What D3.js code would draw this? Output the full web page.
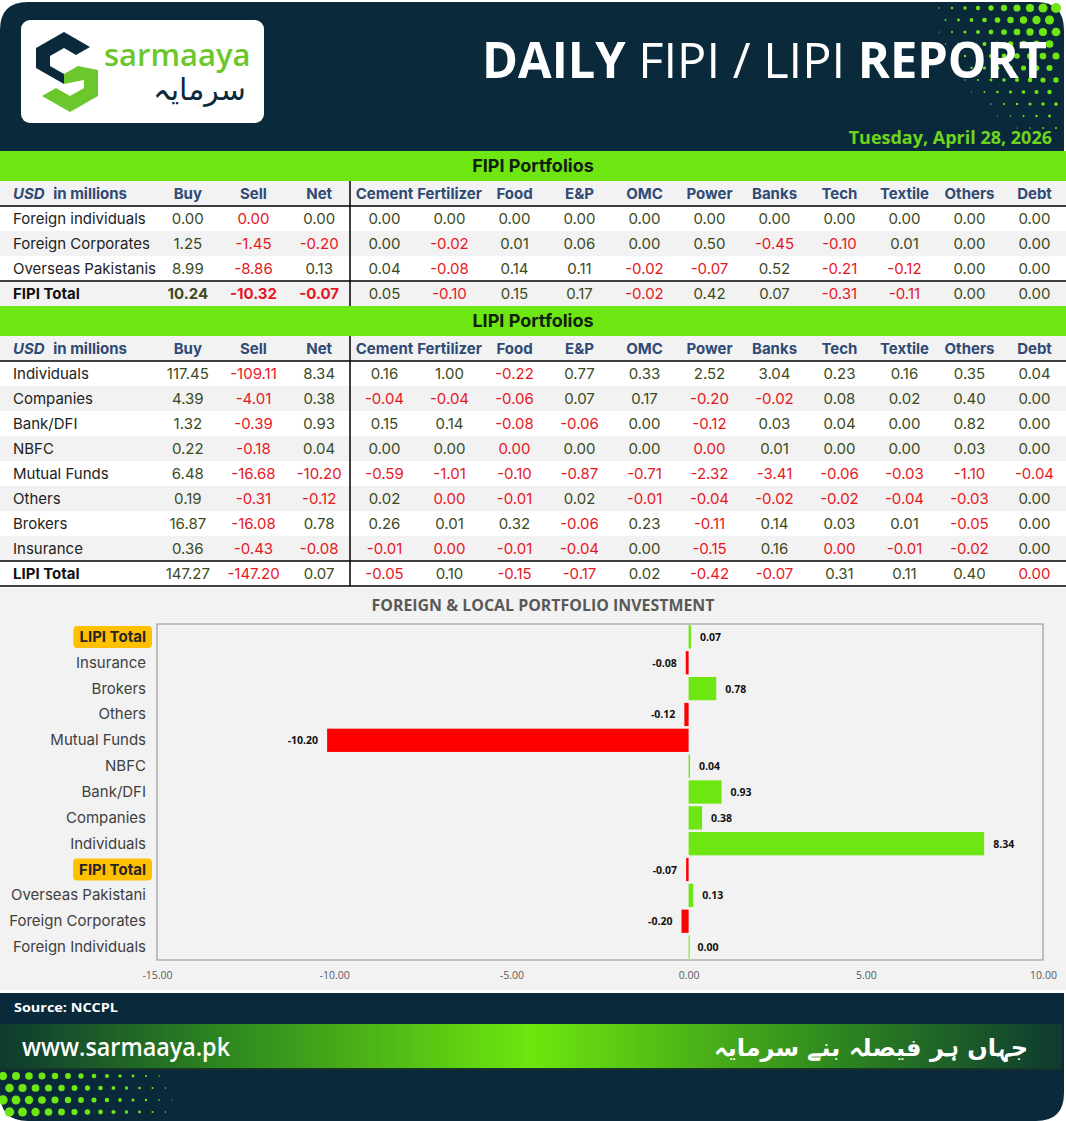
<!DOCTYPE html>
<meta charset="utf-8">
<style>
body { margin: 0; background: #ffffff; }
svg text { font-family: Inter, "Noto Sans", sans-serif; }
</style>
<body>
<script src="https://cdn.jsdelivr.net/npm/d3@7/dist/d3.min.js"></script>
<script>
// ---------- DATA ----------
var reportDate = "Tuesday, April 28, 2026";
var sectors = ["Cement", "Fertilizer", "Food", "E&P", "OMC", "Power", "Banks", "Tech", "Textile", "Others", "Debt"];
var flowCols = ["Buy", "Sell", "Net"];

// -0 marks a value that rounds to 0.00 but is shown in red (small outflow)
var fipiNames = ["Foreign individuals", "Foreign Corporates", "Overseas Pakistanis"];
var fipiBuy = [0.00, 1.25, 8.99];
var fipiSell = [-0, -1.45, -8.86];
var fipiNet = [0.00, -0.20, 0.13];
var fipiSectors = [
  [0.00, 0.00, 0.00, 0.00, 0.00, 0.00, 0.00, 0.00, 0.00, 0.00, 0.00],
  [0.00, -0.02, 0.01, 0.06, 0.00, 0.50, -0.45, -0.10, 0.01, 0.00, 0.00],
  [0.04, -0.08, 0.14, 0.11, -0.02, -0.07, 0.52, -0.21, -0.12, 0.00, 0.00]
];
var fipiTotalFlows = [10.24, -10.32, -0.07];
var fipiTotalSectors = [0.05, -0.10, 0.15, 0.17, -0.02, 0.42, 0.07, -0.31, -0.11, 0.00, 0.00];

var lipiNames = ["Individuals", "Companies", "Bank/DFI", "NBFC", "Mutual Funds", "Others", "Brokers", "Insurance"];
var lipiBuy = [117.45, 4.39, 1.32, 0.22, 6.48, 0.19, 16.87, 0.36];
var lipiSell = [-109.11, -4.01, -0.39, -0.18, -16.68, -0.31, -16.08, -0.43];
var lipiNet = [8.34, 0.38, 0.93, 0.04, -10.20, -0.12, 0.78, -0.08];
var lipiSectors = [
  [0.16, 1.00, -0.22, 0.77, 0.33, 2.52, 3.04, 0.23, 0.16, 0.35, 0.04],
  [-0.04, -0.04, -0.06, 0.07, 0.17, -0.20, -0.02, 0.08, 0.02, 0.40, 0.00],
  [0.15, 0.14, -0.08, -0.06, 0.00, -0.12, 0.03, 0.04, 0.00, 0.82, 0.00],
  [0.00, 0.00, -0, 0.00, 0.00, -0, 0.01, 0.00, 0.00, 0.03, 0.00],
  [-0.59, -1.01, -0.10, -0.87, -0.71, -2.32, -3.41, -0.06, -0.03, -1.10, -0.04],
  [0.02, -0, -0.01, 0.02, -0.01, -0.04, -0.02, -0.02, -0.04, -0.03, 0.00],
  [0.26, 0.01, 0.32, -0.06, 0.23, -0.11, 0.14, 0.03, 0.01, -0.05, 0.00],
  [-0.01, -0, -0.01, -0.04, 0.00, -0.15, 0.16, -0, -0.01, -0.02, 0.00]
];
var lipiTotalFlows = [147.27, -147.20, 0.07];
var lipiTotalSectors = [-0.05, 0.10, -0.15, -0.17, 0.02, -0.42, -0.07, 0.31, 0.11, 0.40, -0];

// bar chart (top to bottom)
var chartLabels = ["LIPI Total", "Insurance", "Brokers", "Others", "Mutual Funds", "NBFC", "Bank/DFI",
  "Companies", "Individuals", "FIPI Total", "Overseas Pakistani", "Foreign Corporates", "Foreign Individuals"];
var chartValues = [0.07, -0.08, 0.78, -0.12, -10.20, 0.04, 0.93, 0.38, 8.34, -0.07, 0.13, -0.20, 0.00];
var highlighted = ["LIPI Total", "FIPI Total"];
var xTicks = [-15, -10, -5, 0, 5, 10];

// ---------- GENERIC VARIABLES ----------
var width = 1066, height = 1121;
var navy = "#0a2a3c", lime = "#6ee611", red = "#e8161e", olive = "#3b4a23", headBlue = "#2f4a75";

var svg = d3.select("body").append("svg")
  .attr("width", width)
  .attr("height", height);

function isNeg(v) { return v < 0 || Object.is(v, -0); }
function fmt(v) { var s = v.toFixed(2); return s === "-0.00" ? "0.00" : s; }

// ---------- HEADER PANEL ----------
svg.append("path")
  .attr("d", "M0,151 V30 Q0,2 28,2 H1036 Q1064,2 1064,30 V151 Z")
  .attr("fill", navy);

// halftone dots, top right
var dotsTop = svg.append("g");
for (var gy = 8; gy < 130; gy += 12) {
  for (var gx = 900; gx < 1070; gx += 13) {
    var ox = gx + ((gy / 12) % 2 >= 1 ? 6.5 : 0);
    var d = Math.hypot(ox - 1080, gy + 5);
    var r = 6 - d / 27;
    if (r > 0.5 && ox < 1060) {
      dotsTop.append("circle").attr("cx", ox).attr("cy", gy).attr("r", r).attr("fill", lime);
    }
  }
}

// logo
var logo = svg.append("g");
logo.append("rect").attr("x", 21).attr("y", 20).attr("width", 243).attr("height", 103).attr("rx", 9).attr("fill", "#ffffff");
logo.append("polygon")
  .attr("points", "36,48 64,32 90,47 76,55 64,48 50,56 50,66 64,74 64,84 36,68")
  .attr("fill", navy);
logo.append("polygon")
  .attr("points", "98,70 98,96 70,112 42,96 56,88 70,96 84,88 84,80 64,84 64,74 78,66")
  .attr("fill", "#6cc72c");
logo.append("text")
  .attr("x", 104).attr("y", 66)
  .attr("font-weight", 600)
  .attr("font-size", 31).attr("fill", "#6cc72c")
  .style("font-family", "'Open Sans', sans-serif")
  .text("sarmaaya");
logo.append("text")
  .attr("x", 246).attr("y", 100).attr("text-anchor", "end")
  .attr("font-size", 30).attr("fill", navy)
  .style("font-family", "'DejaVu Sans', sans-serif")
  .text("سرمایہ");

// title
var title = svg.append("text")
  .attr("x", 482).attr("y", 78)
  .attr("font-size", 50).attr("fill", "#ffffff")
  .attr("textLength", 565).attr("lengthAdjust", "spacingAndGlyphs")
  .style("font-family", "'Open Sans', sans-serif");
title.append("tspan").attr("font-weight", 700).text("DAILY ");
title.append("tspan").attr("font-weight", 400).text("FIPI / LIPI ");
title.append("tspan").attr("font-weight", 700).text("REPORT");

svg.append("text")
  .attr("x", 1052).attr("y", 144).attr("text-anchor", "end")
  .attr("font-size", 18).attr("font-weight", 700).attr("fill", "#6fd41e")
  .style("font-family", "'Open Sans', sans-serif")
  .text(reportDate);

// ---------- TABLES ----------
var flowX = d3.scaleBand().domain(flowCols).range([155, 352]);
var sectX = d3.scaleBand().domain(sectors).range([352, 1067]);

function drawTable(y0, name, names, buy, sell, net, sect, totalLabel, totalFlows, totalSect, boldTotals) {
  var g = svg.append("g");
  var rowH = 25;
  // band
  g.append("rect").attr("x", 0).attr("y", y0).attr("width", width).attr("height", 30).attr("fill", lime);
  g.append("text").attr("x", 533).attr("y", y0 + 21).attr("text-anchor", "middle")
    .attr("font-size", 18).attr("font-weight", 700).attr("fill", "#102010").text(name);
  // header row
  var hy = y0 + 30;
  g.append("rect").attr("x", 0).attr("y", hy).attr("width", width).attr("height", rowH).attr("fill", "#f2f2f2");
  var ut = g.append("text").attr("x", 13).attr("y", hy + 18).attr("font-size", 15)
    .attr("font-weight", 700).attr("fill", headBlue).attr("xml:space", "preserve");
  ut.append("tspan").attr("font-style", "italic").text("USD");
  ut.append("tspan").attr("dx", 5).text(" in millions");
  g.selectAll(".hf").data(flowCols).enter().append("text")
    .attr("x", function (c) { return flowX(c) + flowX.bandwidth() / 2; })
    .attr("y", hy + 18).attr("text-anchor", "middle").attr("font-size", 15)
    .attr("font-weight", 700).attr("fill", headBlue).text(function (c) { return c; });
  g.selectAll(".hs").data(sectors).enter().append("text")
    .attr("x", function (c) { return sectX(c) + sectX.bandwidth() / 2; })
    .attr("y", hy + 18).attr("text-anchor", "middle").attr("font-size", 15)
    .attr("font-weight", 700).attr("fill", headBlue).text(function (c) { return c; });

  var rows = names.map(function (n, i) {
    return { label: n, flows: [buy[i], sell[i], net[i]], sect: sect[i], total: false };
  });
  rows.push({ label: totalLabel, flows: totalFlows, sect: totalSect, total: true });

  rows.forEach(function (r, i) {
    var ry = hy + rowH * (i + 1);
    g.append("rect").attr("x", 0).attr("y", ry).attr("width", width).attr("height", rowH)
      .attr("fill", i % 2 ? "#f2f2f2" : "#ffffff");
    g.append("text").attr("x", 13).attr("y", ry + 18).attr("font-size", 15)
      .attr("font-weight", r.total ? 700 : 400).attr("fill", r.total ? "#111111" : "#222222")
      .text(r.label);
    flowCols.forEach(function (c, j) {
      var v = r.flows[j];
      g.append("text").attr("x", flowX(c) + flowX.bandwidth() / 2).attr("y", ry + 18)
        .attr("text-anchor", "middle").attr("font-size", 15)
        .attr("font-weight", r.total && boldTotals ? 700 : 400)
        .attr("fill", isNeg(v) ? red : olive).text(fmt(v));
    });
    sectors.forEach(function (c, j) {
      var v = r.sect[j];
      g.append("text").attr("x", sectX(c) + sectX.bandwidth() / 2).attr("y", ry + 18)
        .attr("text-anchor", "middle").attr("font-size", 15)
        .attr("fill", isNeg(v) ? red : olive).text(fmt(v));
    });
  });
  var totTop = hy + rowH * rows.length;
  g.append("line").attr("x1", 0).attr("x2", width).attr("y1", hy + rowH).attr("y2", hy + rowH)
    .attr("stroke", "#000").attr("stroke-width", 1.5);
  g.append("line").attr("x1", 0).attr("x2", width).attr("y1", totTop).attr("y2", totTop)
    .attr("stroke", "#000").attr("stroke-width", 1.5);
  g.append("line").attr("x1", 350).attr("x2", 350).attr("y1", hy).attr("y2", totTop + rowH)
    .attr("stroke", "#000").attr("stroke-width", 1.5);
  return totTop + rowH;
}

var fEnd = drawTable(151, "FIPI Portfolios", fipiNames, fipiBuy, fipiSell, fipiNet, fipiSectors,
  "FIPI Total", fipiTotalFlows, fipiTotalSectors, true);
var lEnd = drawTable(fEnd, "LIPI Portfolios", lipiNames, lipiBuy, lipiSell, lipiNet, lipiSectors,
  "LIPI Total", lipiTotalFlows, lipiTotalSectors, false);
svg.append("line").attr("x1", 0).attr("x2", width).attr("y1", lEnd).attr("y2", lEnd)
  .attr("stroke", "#000").attr("stroke-width", 1.5);

// ---------- BAR CHART ----------
svg.append("rect").attr("x", 0).attr("y", 588).attr("width", width).attr("height", 402).attr("fill", "#f2f2f2");
svg.append("text").attr("x", 543).attr("y", 611).attr("text-anchor", "middle")
  .attr("font-size", 16).attr("font-weight", 700).attr("fill", "#595959")
  .attr("textLength", 343).attr("lengthAdjust", "spacingAndGlyphs")
  .style("font-family", "'Open Sans', sans-serif")
  .text("FOREIGN & LOCAL PORTFOLIO INVESTMENT");

var x = d3.scaleLinear().domain([-15, 10]).range([157, 1043]);
var y = d3.scaleBand().domain(chartLabels).range([624, 960]).paddingInner(0.1).paddingOuter(0.05);

svg.append("rect").attr("x", 157).attr("y", 624).attr("width", 886).attr("height", 336)
  .attr("fill", "none").attr("stroke", "#8c8c8c").attr("stroke-width", 1);

var bars = svg.append("g");
bars.selectAll("rect").data(chartValues).enter().append("rect")
  .attr("x", function (v) { return x(Math.min(0, v)); })
  .attr("y", function (v, i) { return y(chartLabels[i]); })
  .attr("width", function (v) { return Math.max(1, Math.abs(x(v) - x(0))); })
  .attr("height", y.bandwidth())
  .attr("fill", function (v) { return v < 0 ? "#ff0000" : lime; });

bars.selectAll("text").data(chartValues).enter().append("text")
  .attr("x", function (v) { return v < 0 ? x(v) - 9 : x(v) + 9; })
  .attr("y", function (v, i) { return y(chartLabels[i]) + y.bandwidth() / 2 + 4; })
  .attr("text-anchor", function (v) { return v < 0 ? "end" : "start"; })
  .attr("font-size", 10.5).attr("font-weight", 700).attr("fill", "#111111")
  .style("font-family", "'Open Sans', sans-serif")
  .text(function (v) { return v.toFixed(2); });

// category labels
var ylab = svg.append("g");
chartLabels.forEach(function (c) {
  var cy = y(c) + y.bandwidth() / 2;
  var hl = highlighted.indexOf(c) >= 0;
  var t = ylab.append("text").attr("x", 146).attr("y", cy + 5).attr("text-anchor", "end")
    .attr("font-size", 15).attr("font-weight", hl ? 700 : 400)
    .attr("fill", hl ? "#262626" : "#404040").text(c);
  if (hl) {
    var w = t.node().getComputedTextLength();
    ylab.insert("rect", "text").attr("x", 146 - w - 6).attr("y", cy - 11)
      .attr("width", w + 12).attr("height", 22).attr("rx", 4).attr("fill", "#ffc000");
  }
});

var xAxis = svg.append("g").attr("transform", "translate(0,969)")
  .call(d3.axisBottom(x).tickValues(xTicks).tickSize(0).tickFormat(function (d) { return d.toFixed(2); }));
xAxis.select(".domain").remove();
xAxis.selectAll("text").attr("fill", "#595959").attr("font-size", 10.5)
  .style("font-family", "'Open Sans', sans-serif");

// ---------- FOOTER ----------
svg.append("path")
  .attr("d", "M0,993 H1064 V1093 Q1064,1121 1036,1121 H28 Q0,1121 0,1093 Z")
  .attr("fill", navy);

var dotsBot = svg.append("g");
for (var by = 1076; by < 1122; by += 12) {
  for (var bx = 3; bx < 300; bx += 13) {
    var bxo = bx + ((Math.round((by - 1076) / 12)) % 2 ? 6.5 : 0);
    var bd = Math.hypot(bxo + 15, by - 1125);
    var br = 5.5 - bd / 38;
    if (br > 0.5 && by < 1118) {
      dotsBot.append("circle").attr("cx", bxo).attr("cy", by).attr("r", br).attr("fill", lime);
    }
  }
}

var grad = svg.append("defs").append("linearGradient").attr("id", "footband");
[["0%", "#0e3a30"], ["22%", "#2f8a1f"], ["50%", "#6ee60e"], ["78%", "#2f8a1f"], ["100%", "#0e3a30"]]
  .forEach(function (s) { grad.append("stop").attr("offset", s[0]).attr("stop-color", s[1]); });
svg.append("rect").attr("x", 0).attr("y", 1024).attr("width", 1062).attr("height", 45).attr("fill", "url(#footband)");
svg.append("line").attr("x1", 0).attr("x2", 1062).attr("y1", 1069).attr("y2", 1069)
  .attr("stroke", "#163326").attr("stroke-width", 2);

svg.append("text").attr("x", 14).attr("y", 1012)
  .attr("font-size", 13).attr("font-weight", 700).attr("fill", "#ffffff")
  .attr("textLength", 104).attr("lengthAdjust", "spacingAndGlyphs")
  .style("font-family", "'Open Sans', sans-serif")
  .text("Source: NCCPL");
svg.append("text").attr("x", 22).attr("y", 1056)
  .attr("font-size", 26).attr("font-weight", 600).attr("fill", "#ffffff")
  .attr("textLength", 208).attr("lengthAdjust", "spacingAndGlyphs")
  .style("font-family", "'Open Sans', sans-serif")
  .text("www.sarmaaya.pk");
svg.append("text").attr("x", 1028).attr("y", 1056).attr("text-anchor", "end")
  .attr("font-size", 24).attr("font-weight", 700).attr("fill", "#ffffff")
  .style("font-family", "'DejaVu Sans', sans-serif")
  .text("جہاں ہر فیصلہ بنے سرمایہ");
</script>
</body>
